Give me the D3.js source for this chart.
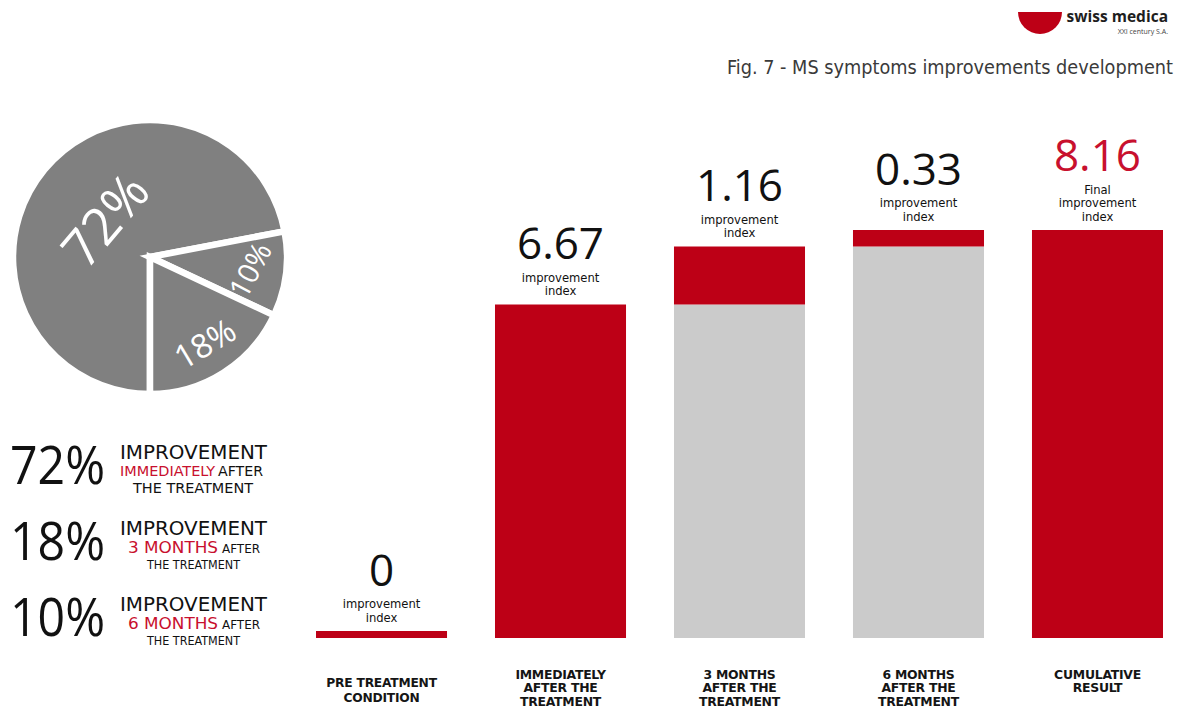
<!DOCTYPE html>
<html><head><meta charset="utf-8">
<script src="https://cdn.jsdelivr.net/npm/d3@7"></script>
<style>body{margin:0;background:#fff} svg{display:block}</style>
</head><body>
<svg id="chart" width="1185" height="710"></svg>
<script>
// ---------- data ----------
const pieLabels = ["72%", "10%", "18%"];
const pieValues = [72, 10, 18];

const legendPercent = ["72%", "18%", "10%"];
const legendHighlight = ["IMMEDIATELY", "3 MONTHS", "6 MONTHS"];
const legendTail = ["AFTER", "AFTER", "AFTER"];
const legendLast = ["THE  TREATMENT", "THE TREATMENT", "THE TREATMENT"];

const categories = [
  "PRE TREATMENT|CONDITION",
  "IMMEDIATELY|AFTER THE|TREATMENT",
  "3 MONTHS|AFTER THE|TREATMENT",
  "6 MONTHS|AFTER THE|TREATMENT",
  "CUMULATIVE|RESULT"
];
const baseValues = [0, 0, 6.67, 7.83, 0];        // earlier improvement (grey)
const gainValues = [0, 6.67, 1.16, 0.33, 8.16];   // improvement of the step (red)
const valueLabels = ["0", "6.67", "1.16", "0.33", "8.16"];
const captionLines = [
  ["improvement", "index"], ["improvement", "index"], ["improvement", "index"],
  ["improvement", "index"], ["Final", "improvement", "index"]
];

// ---------- styles ----------
const RED = "#bd0016", RED_TXT = "#c8102e", GREY_BAR = "#cbcbcb", PIE_GREY = "#808080";
const condensed = "'DejaVu Sans Condensed', 'Open Sans', sans-serif";
const openSans = "'Open Sans', 'Noto Sans', sans-serif";

const svg = d3.select("#chart");

// ---------- logo & title ----------
svg.append("path")
  .attr("transform", "translate(1040,12)")
  .attr("d", d3.arc()({innerRadius: 0, outerRadius: 22, startAngle: Math.PI / 2, endAngle: Math.PI * 1.5}))
  .attr("fill", RED);
svg.append("text").attr("x", 1168).attr("y", 22).attr("text-anchor", "end")
  .attr("font-family", openSans).attr("font-weight", 700).attr("font-size", 15.5)
  .attr("fill", "#1e1e1e").text("swiss medica");
svg.append("text").attr("x", 1168).attr("y", 34).attr("text-anchor", "end")
  .attr("font-family", openSans).attr("font-size", 7).attr("fill", "#444")
  .text("XXI century S.A.");
svg.append("text").attr("x", 1173).attr("y", 74).attr("text-anchor", "end")
  .attr("font-family", condensed).attr("font-size", 19).attr("fill", "#3a3a3a")
  .attr("textLength", 446).attr("lengthAdjust", "spacingAndGlyphs")
  .text("Fig. 7 - MS symptoms improvements development");

// ---------- pie ----------
const pieCx = 150, pieCy = 257, pieR = 137;
const pie = d3.pie().sort(null).startAngle(Math.PI).endAngle(Math.PI * 3);
const arcs = pie(pieValues);
const arc = d3.arc().innerRadius(0).outerRadius(pieR);
const pg = svg.append("g").attr("transform", `translate(${pieCx},${pieCy})`);
pg.selectAll("path").data(arcs).join("path")
  .attr("d", arc).attr("fill", PIE_GREY)
  .attr("stroke", "#fff").attr("stroke-width", 6.5).attr("stroke-linejoin", "miter");

const pieLabelRadius = [60, 100, 102];
const pieLabelRotate = [-50, -62, -31];
const pieLabelSize = [52, 29, 33];
pg.selectAll("text").data(arcs).join("text")
  .attr("transform", (d, i) => {
    const a = (d.startAngle + d.endAngle) / 2;
    const px = Math.sin(a) * pieLabelRadius[i], py = -Math.cos(a) * pieLabelRadius[i];
    return `translate(${px},${py}) rotate(${pieLabelRotate[i]})`;
  })
  .attr("text-anchor", "middle").attr("dominant-baseline", "central")
  .attr("font-family", openSans).attr("font-weight", 400)
  .attr("font-size", (d, i) => pieLabelSize[i]).attr("fill", "#fff")
  .text((d, i) => pieLabels[i]);

// ---------- legend ----------
legendPercent.forEach((p, i) => {
  const by = 459 + i * 76;
  svg.append("text").attr("x", 10).attr("y", by + 25)
    .attr("font-family", openSans).attr("font-size", 53).attr("fill", "#111")
    .attr("textLength", 95).attr("lengthAdjust", "spacingAndGlyphs").text(p);
  const t = svg.append("text").attr("font-family", condensed).attr("fill", "#111");
  t.append("tspan").attr("x", 120).attr("y", by).attr("font-size", 20)
    .attr("textLength", 147).attr("lengthAdjust", "spacingAndGlyphs").text("IMPROVEMENT");
  if (i === 0) {
    t.append("tspan").attr("x", 120).attr("y", by + 17).attr("font-size", 13.5)
      .attr("fill", RED_TXT).attr("textLength", 95).attr("lengthAdjust", "spacingAndGlyphs")
      .text(legendHighlight[i]);
    t.append("tspan").attr("x", 218).attr("y", by + 17).attr("font-size", 13.5)
      .attr("textLength", 45).attr("lengthAdjust", "spacingAndGlyphs").text(legendTail[i]);
    t.append("tspan").attr("x", 133).attr("y", by + 33.5).attr("font-size", 14)
      .attr("textLength", 120).attr("lengthAdjust", "spacingAndGlyphs").text(legendLast[i]);
  } else {
    t.append("tspan").attr("x", 128).attr("y", by + 18).attr("font-size", 16)
      .attr("fill", RED_TXT).attr("textLength", 90).attr("lengthAdjust", "spacingAndGlyphs")
      .text(legendHighlight[i]);
    t.append("tspan").attr("x", 222).attr("y", by + 18).attr("font-size", 11.5)
      .attr("textLength", 38).attr("lengthAdjust", "spacingAndGlyphs").text(legendTail[i]);
    t.append("tspan").attr("x", 147).attr("y", by + 34).attr("font-size", 12)
      .attr("textLength", 93).attr("lengthAdjust", "spacingAndGlyphs").text(legendLast[i]);
  }
});

// ---------- bars ----------
const x = d3.scaleBand().domain(categories).range([316, 1163]).paddingInner(0.268).paddingOuter(0);
const y = d3.scaleLinear().domain([0, 8.16]).range([638, 230]);
const stub = 7;

const bars = svg.append("g");
categories.forEach((c, i) => {
  const bx = x(c), bw = x.bandwidth();
  if (baseValues[i] > 0) {
    bars.append("rect").attr("x", bx).attr("width", bw)
      .attr("y", y(baseValues[i])).attr("height", y(0) - y(baseValues[i])).attr("fill", GREY_BAR);
  }
  const top = y(baseValues[i] + gainValues[i]);
  const bottom = y(baseValues[i]);
  const h = Math.max(stub, bottom - top);
  bars.append("rect").attr("x", bx).attr("width", bw)
    .attr("y", bottom - h).attr("height", h).attr("fill", RED);

  const labelTop = bottom - h;
  const cx = bx + bw / 2;
  const caps = captionLines[i];
  const lh = 13.5;
  const lastY = labelTop - 9;
  const firstY = lastY - (caps.length - 1) * lh;
  const ct = svg.append("text").attr("text-anchor", "middle").attr("font-family", condensed)
    .attr("font-size", 11.5).attr("fill", "#111")
    .attr("transform", `translate(${cx},0) scale(1.12,1)`);
  caps.forEach((s, k) => {
    ct.append("tspan").attr("x", 0).attr("y", firstY + k * lh).text(s);
  });
  svg.append("text").attr("x", cx).attr("y", firstY - 23)
    .attr("text-anchor", "middle").attr("font-family", openSans).attr("font-size", 44)
    .attr("fill", i === categories.length - 1 ? RED_TXT : "#111").text(valueLabels[i]);

  // category label
  const lines = c.split("|");
  const lt = svg.append("text").attr("text-anchor", "middle").attr("font-family", condensed)
    .attr("font-weight", 700).attr("font-size", i === 0 ? 13 : 11.5).attr("letter-spacing", -0.2)
    .attr("fill", "#151515")
    .attr("transform", `translate(${cx},0) scale(${i === 0 ? 1.05 : 1.2},1)`);
  lines.forEach((s, k) => {
    lt.append("tspan").attr("x", 0).attr("y", (i === 0 ? 687 : 679) + k * (i === 0 ? 15.5 : 13.5)).text(s);
  });
});
</script>
</body></html>
